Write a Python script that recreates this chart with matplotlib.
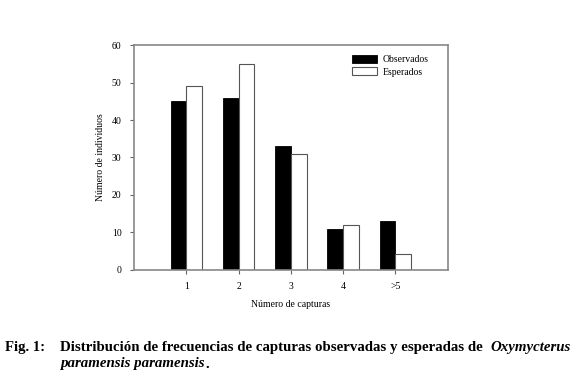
import matplotlib.pyplot as plt
import numpy as np

categories = ["1", "2", "3", "4", ">5"]
observados = [45, 46, 33, 11, 13]
esperados = [49, 55, 31, 12, 4.2]

plt.rcParams['font.family'] = ['Liberation Serif', 'DejaVu Serif']

fig = plt.figure(figsize=(5.8, 3.79), dpi=100)
ax = fig.add_axes([0.231, 0.288, 0.541, 0.593])

x = np.arange(1, len(categories) + 1)
w = 0.3
ax.bar(x - w / 2, observados, w, color="black", edgecolor="black", linewidth=0.6, label="Observados")
ax.bar(x + w / 2, esperados, w, color="white", edgecolor="#555555", linewidth=0.8, label="Esperados")

ax.set_xlim(0, 6)
ax.set_ylim(0, 60)
ax.set_xticks(x)
ax.set_xticklabels(categories)
ax.set_yticks(range(0, 61, 10))
for s in ax.spines.values():
    s.set_color("#888888")
    s.set_linewidth(1.2)
ax.tick_params(axis="both", labelsize=7, length=3, color="#666666", width=0.8, pad=6)
ax.set_xlabel("Número de capturas", fontsize=7, labelpad=6)
ax.set_ylabel("Número de individuos", fontsize=7, labelpad=5)

ax.legend(loc="upper right", frameon=False, fontsize=7, handlelength=2.6, handleheight=0.9,
          handletextpad=0.6, borderaxespad=0.6, labelspacing=0.3, bbox_to_anchor=(0.97, 1.0))

# caption, fitted to the reference widths
r = fig.canvas.get_renderer()
fs = 10.5
y1 = 1 - 348 / 379
y2 = 1 - 364 / 379
fig.text(5 / 580, y1, "Fig. 1:", fontsize=fs, fontweight="bold", va="center", ha="left")
main = fig.text(60 / 580, y1, "Distribución de frecuencias de capturas observadas y esperadas de",
                fontsize=fs, fontweight="bold", va="center", ha="left")
wpx = main.get_window_extent(r).width
main.set_fontsize(fs * 424 / wpx)
fig.text(571 / 580, y1, "Oxymycterus", fontsize=main.get_fontsize(), fontweight="bold", style="italic",
         va="center", ha="right")
sp = fig.text(60 / 580, y2, "paramensis paramensis", fontsize=main.get_fontsize(), fontweight="bold",
              style="italic", va="center", ha="left")
ext = sp.get_window_extent(r)
fig.text((ext.x1 + 1) / 580, y2, ".", fontsize=main.get_fontsize(), fontweight="bold", va="center", ha="left")

fig.savefig("out.png", dpi=100)
